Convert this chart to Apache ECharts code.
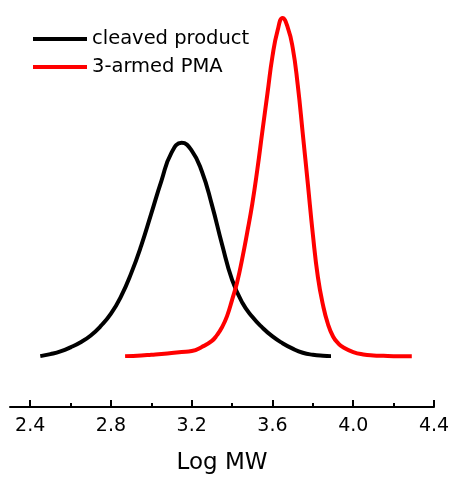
<!DOCTYPE html>
<html>
<head>
<meta charset="utf-8">
<script src="https://cdn.jsdelivr.net/npm/echarts@6/dist/echarts.min.js"></script>
<style>
  html, body { margin: 0; padding: 0; background: #fff; }
  #chart { width: 453px; height: 480px; }
</style>
</head>
<body>
<div id="chart"></div>
<script>
// GPC traces: normalized detector response vs. log molecular weight
const cleavedLogMW = [2.45, 2.50, 2.55, 2.60, 2.65, 2.70, 2.75, 2.80, 2.85, 2.90, 2.95, 3.00, 3.05, 3.10, 3.15,
  3.20, 3.25, 3.30, 3.35, 3.40, 3.45, 3.50, 3.55, 3.60, 3.65, 3.70, 3.75, 3.80, 3.85, 3.89];
const cleavedSignal = [0.000, 0.006, 0.014, 0.026, 0.041, 0.061, 0.089, 0.125, 0.176, 0.244, 0.326, 0.421, 0.517, 0.600, 0.629,
  0.606, 0.545, 0.446, 0.330, 0.225, 0.158, 0.116, 0.084, 0.058, 0.038, 0.022, 0.010, 0.004, 0.001, 0.000];

const armedLogMW = [2.87, 2.95, 3.00, 3.05, 3.10, 3.15, 3.20, 3.25, 3.30, 3.325, 3.35, 3.375, 3.40, 3.425, 3.45,
  3.475, 3.50, 3.525, 3.55, 3.575, 3.60, 3.625, 3.65, 3.675, 3.70, 3.725, 3.75, 3.775, 3.80, 3.825, 3.85,
  3.875, 3.90, 3.925, 3.95, 4.00, 4.05, 4.10, 4.15, 4.20, 4.29];
const armedSignal = [0.000, 0.002, 0.004, 0.006, 0.009, 0.012, 0.015, 0.027, 0.045, 0.062, 0.085, 0.118, 0.166, 0.218, 0.287,
  0.365, 0.449, 0.550, 0.663, 0.774, 0.884, 0.959, 0.997, 0.970, 0.910, 0.800, 0.656, 0.509, 0.359, 0.233, 0.151,
  0.094, 0.058, 0.038, 0.026, 0.012, 0.005, 0.002, 0.001, 0.000, 0.000];

const seriesNames = ['cleaved product', '3-armed PMA'];
const tickValues = [2.4, 2.6, 2.8, 3.0, 3.2, 3.4, 3.6, 3.8, 4.0, 4.2, 4.4];
const labelValues = [2.4, 2.8, 3.2, 3.6, 4.0, 4.4];

const zip = (xs, ys) => xs.map((x, i) => [x, ys[i]]);
const FONT = 'DejaVu Sans';

const chart = echarts.init(document.getElementById('chart'), null, { renderer: 'canvas' });
chart.setOption({
  animation: false,
  backgroundColor: '#ffffff',
  grid: { left: 10, right: 19, top: 0, bottom: 72, containLabel: false },
  legend: {
    orient: 'vertical',
    left: 33,
    top: 29,
    padding: 0,
    itemWidth: 54,
    itemHeight: 4,
    itemGap: 8,
    icon: 'rect',
    textStyle: { fontFamily: FONT, fontSize: 19.5, color: '#000', lineHeight: 20 },
    data: seriesNames
  },
  xAxis: [
    {
      type: 'value',
      min: 2.3,
      max: 4.4,
      position: 'bottom',
      name: 'Log MW',
      nameLocation: 'middle',
      nameGap: 45,
      nameTextStyle: { fontFamily: FONT, fontSize: 23, color: '#000' },
      axisLine: { show: true, onZero: false, lineStyle: { color: '#000', width: 2 } },
      axisTick: { show: true, inside: true, length: 4, lineStyle: { color: '#000', width: 2 }, customValues: tickValues },
      axisLabel: { show: true, margin: 10, fontFamily: FONT, fontSize: 19, color: '#000', customValues: labelValues,
        formatter: v => v.toFixed(1) },
      splitLine: { show: false }
    },
    {
      type: 'value',
      min: 2.3,
      max: 4.4,
      position: 'bottom',
      axisLine: { show: false, onZero: false },
      axisTick: { show: true, inside: true, length: 7, lineStyle: { color: '#000', width: 2 }, customValues: labelValues },
      axisLabel: { show: false },
      splitLine: { show: false }
    }
  ],
  yAxis: {
    type: 'value',
    min: -0.15,
    max: 1.05,
    show: false
  },
  series: [
    {
      name: seriesNames[0],
      type: 'line',
      xAxisIndex: 0,
      data: zip(cleavedLogMW, cleavedSignal),
      smooth: 0.5,
      symbol: 'none',
      color: '#000000',
      lineStyle: { color: '#000000', width: 4 }
    },
    {
      name: seriesNames[1],
      type: 'line',
      xAxisIndex: 0,
      data: zip(armedLogMW, armedSignal),
      smooth: 0.5,
      symbol: 'none',
      color: '#ff0000',
      lineStyle: { color: '#ff0000', width: 4 }
    }
  ]
});
</script>
</body>
</html>
